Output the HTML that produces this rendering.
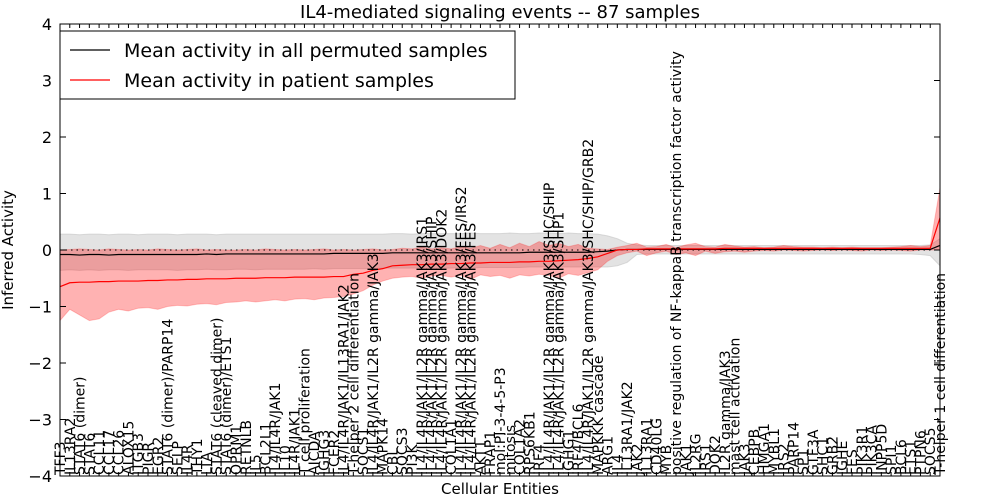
<!DOCTYPE html>
<html><head><meta charset="utf-8"><style>
html,body{margin:0;padding:0;background:#fff;}
svg{display:block;font-family:"DejaVu Sans","Liberation Sans",sans-serif;}
</style></head><body>
<svg id="chart" width="1000" height="500" viewBox="0 0 1000 500" xmlns="http://www.w3.org/2000/svg">
<rect x="0" y="0" width="1000" height="500" fill="#fff"/>
<g id="bands"></g>
<g id="lines"></g>
<g id="xlabels" font-size="14"></g>
<g id="axes"></g>
<text x="500" y="18" text-anchor="middle" font-size="18">IL4-mediated signaling events -- 87 samples</text>
<text x="500" y="494" text-anchor="middle" font-size="15">Cellular Entities</text>
<text transform="translate(13,250) rotate(-90)" text-anchor="middle" font-size="15">Inferred Activity</text>
<g>
<rect x="60" y="31" width="455" height="68" fill="#fff" stroke="#000" stroke-width="1"/>
<line x1="70" y1="50" x2="110" y2="50" stroke="#000" stroke-width="1.2"/>
<text x="124" y="57" font-size="19">Mean activity in all permuted samples</text>
<line x1="70" y1="80" x2="110" y2="80" stroke="#f00" stroke-width="1.2"/>
<text x="124" y="87" font-size="19">Mean activity in patient samples</text>
</g>
</svg>
<script>
const categories = ["TFF3","IL13RA2","STAT6 (dimer)","STAT6","CCL11","CCL17","CCL26","ALOX15","ITGB3","PIGR","EGR2","STAT6 (dimer)/PARP14","SELP","IL4R","THY1","LTA","STAT6 (cleaved dimer)","STAT6 (dimer)/ETS1","OPRM1","RETNLB","IL5","BCL2L1","IL4/IL4R/JAK1","IL10","IL4R/JAK1","T cell proliferation","AICDA","IGHG3","FCER2","IL4/IL4R/JAK1/IL13RA1/JAK2","T-helper 2 cell differentiation","SOCS1","IL4/IL4R/JAK1/IL2R gamma/JAK3","MAPK14","CBL","SOCS3","PI3K","IL4/IL4R/JAK1/IL2R gamma/JAK3/IRS1","IL4/IL4R/JAK1/IL2R gamma/JAK3/SHIP","IL4/IL4R/JAK1/IL2R gamma/JAK3/DOK2","COL1A1","IL4/IL4R/JAK1/IL2R gamma/JAK3/FES/IRS2","IL4/IL4R/JAK1/IL2R gamma/JAK3/FES","AKT1","FRAP1","mol:PI-3-4-5-P3","mitosis","COL1A2","RPS6KB1","IRF4","IL4/IL4R/JAK1/IL2R gamma/JAK3/SHC/SHIP","IL4/IL4R/JAK1/IL2R gamma/JAK3/SHP1","IGHG1","IRF4/BCL6","IL4/IL4R/JAK1/IL2R gamma/JAK3/SHC/SHIP/GRB2","MAPKKK cascade","ARG1","IL4","IL13RA1/JAK2","JAK2","IL13RA1","CD40LG","MYB","positive regulation of NF-kappaB transcription factor activity","JAK1","IL2RG","IRS1","DOK2","IL2R gamma/JAK3","mast cell activation","JAK3","CEBPB","HMGA1","MYBL1","IRS2","PARP14","SP1","GTF3A","SHC1","GRB2","IGHE","FES","PIK3R1","PIK3CA","INPP5D","SPI1","BCL6","ETS1","PTPN6","SOCS5","T-helper 1 cell differentiation"];
const redMean = [-0.65,-0.58,-0.57,-0.57,-0.56,-0.56,-0.55,-0.55,-0.55,-0.54,
-0.54,-0.53,-0.53,-0.52,-0.52,-0.51,-0.51,-0.51,-0.50,-0.50,
-0.50,-0.49,-0.49,-0.49,-0.48,-0.48,-0.48,-0.48,-0.47,-0.47,
-0.43,-0.41,-0.36,-0.33,-0.28,-0.27,-0.26,-0.26,-0.25,-0.25,
-0.24,-0.24,-0.23,-0.23,-0.22,-0.22,-0.22,-0.21,-0.21,-0.20,
-0.20,-0.19,-0.18,-0.17,-0.15,-0.12,-0.06,0.00,0.01,0.01,
0.02,0.02,0.02,0.02,0.02,0.02,0.02,0.02,0.03,0.03,
0.03,0.03,0.03,0.03,0.03,0.03,0.03,0.03,0.03,0.03,
0.03,0.03,0.03,0.03,0.03,0.03,0.03,0.03,0.03,0.03,0.57];
const redLo = [-1.25,-1.05,-1.15,-1.25,-1.22,-1.10,-1.05,-1.08,-1.03,-1.02,
-1.05,-1.00,-0.98,-0.99,-0.96,-0.95,-0.97,-0.93,-0.92,-0.90,
-0.92,-0.90,-0.88,-0.90,-0.87,-0.86,-0.88,-0.85,-0.84,-0.82,
-0.78,-0.72,-0.62,-0.55,-0.50,-0.48,-0.47,-0.50,-0.46,-0.45,
-0.48,-0.45,-0.52,-0.44,-0.47,-0.45,-0.50,-0.44,-0.46,-0.43,
-0.45,-0.50,-0.42,-0.45,-0.40,-0.35,-0.20,-0.10,-0.05,-0.02,
-0.10,-0.05,-0.02,-0.08,-0.05,-0.10,-0.02,-0.06,-0.03,-0.02,
-0.04,-0.02,-0.01,-0.02,0.00,-0.01,-0.02,-0.01,0.00,-0.01,
0.00,-0.01,-0.02,0.00,-0.01,0.00,-0.01,-0.02,0.00,0.00,0.00];
const redHi = [0.00,0.01,0.02,0.01,0.00,0.02,0.01,0.00,0.01,0.00,
0.02,0.01,0.00,0.01,0.02,0.00,0.01,0.00,0.00,0.01,
0.00,0.02,0.01,0.00,0.01,0.00,0.01,0.02,0.00,0.01,
0.00,0.01,0.02,0.00,0.01,0.03,0.02,0.05,0.02,0.04,
0.02,0.06,0.03,0.08,0.03,0.10,0.04,0.12,0.06,0.15,
0.08,0.12,0.06,0.10,0.03,0.02,0.01,0.05,0.08,0.12,
0.05,0.06,0.10,0.04,0.09,0.12,0.06,0.05,0.10,0.07,
0.05,0.06,0.04,0.05,0.08,0.06,0.05,0.05,0.04,0.05,
0.04,0.05,0.04,0.04,0.04,0.05,0.06,0.08,0.06,0.08,1.10];
const blackMean = [-0.08,-0.08,-0.09,-0.08,-0.08,-0.09,-0.08,-0.08,-0.08,-0.08,
-0.08,-0.08,-0.08,-0.08,-0.08,-0.07,-0.08,-0.07,-0.07,-0.07,
-0.07,-0.07,-0.07,-0.07,-0.07,-0.07,-0.07,-0.07,-0.06,-0.06,
-0.06,-0.06,-0.06,-0.06,-0.05,-0.05,-0.05,-0.05,-0.05,-0.05,
-0.05,-0.05,-0.05,-0.05,-0.05,-0.05,-0.05,-0.05,-0.04,-0.04,
-0.04,-0.04,-0.04,-0.04,-0.04,-0.03,-0.02,0.00,0.01,0.01,
0.01,0.01,0.01,0.01,0.01,0.01,0.01,0.01,0.01,0.01,
0.01,0.01,0.01,0.01,0.01,0.01,0.01,0.01,0.01,0.01,
0.01,0.01,0.01,0.01,0.01,0.01,0.01,0.01,0.01,0.01,0.08];
const greyLo = [-0.36,-0.35,-0.36,-0.35,-0.36,-0.35,-0.35,-0.36,-0.35,-0.35,
-0.35,-0.35,-0.36,-0.35,-0.35,-0.34,-0.35,-0.35,-0.34,-0.34,
-0.35,-0.34,-0.34,-0.34,-0.34,-0.34,-0.33,-0.34,-0.33,-0.33,
-0.33,-0.33,-0.33,-0.32,-0.32,-0.32,-0.32,-0.32,-0.32,-0.32,
-0.32,-0.31,-0.32,-0.31,-0.31,-0.31,-0.31,-0.31,-0.30,-0.30,
-0.30,-0.30,-0.30,-0.30,-0.30,-0.30,-0.30,-0.28,-0.22,-0.08,
-0.07,-0.07,-0.07,-0.07,-0.07,-0.07,-0.07,-0.07,-0.07,-0.07,
-0.07,-0.07,-0.07,-0.07,-0.07,-0.07,-0.07,-0.07,-0.07,-0.07,
-0.07,-0.07,-0.07,-0.07,-0.07,-0.07,-0.07,-0.07,-0.08,-0.10,-0.28];
const greyHi = [0.28,0.28,0.27,0.28,0.28,0.27,0.28,0.28,0.27,0.28,
0.28,0.28,0.27,0.28,0.28,0.28,0.27,0.28,0.28,0.28,
0.28,0.28,0.28,0.28,0.28,0.28,0.28,0.28,0.28,0.28,
0.28,0.28,0.28,0.28,0.29,0.29,0.28,0.29,0.29,0.29,
0.29,0.29,0.30,0.29,0.29,0.29,0.30,0.29,0.29,0.30,
0.30,0.29,0.30,0.29,0.29,0.28,0.25,0.20,0.12,0.09,
0.08,0.08,0.08,0.08,0.08,0.08,0.08,0.08,0.08,0.08,
0.08,0.08,0.08,0.08,0.08,0.08,0.08,0.08,0.08,0.08,
0.08,0.08,0.08,0.08,0.08,0.08,0.08,0.08,0.08,0.09,0.20];
const yTicks = [-4,-3,-2,-1,0,1,2,3,4];

const NS = "http://www.w3.org/2000/svg";
const X0 = 60, X1 = 940, Y0 = 24, Y1 = 476, VMIN = -4, VMAX = 4;
function xScale(i){ return X0 + i * (X1 - X0) / (categories.length - 1); }
function yScale(v){ return Y1 - (v - VMIN) * (Y1 - Y0) / (VMAX - VMIN); }
function mk(tag, attrs, parent){
  const el = document.createElementNS(NS, tag);
  for (const k in attrs) el.setAttribute(k, attrs[k]);
  parent.appendChild(el);
  return el;
}
function bandPath(lo, hi){
  let d = "";
  hi.forEach((v,i)=>{ d += (i?"L":"M") + xScale(i).toFixed(2) + "," + yScale(v).toFixed(2); });
  for (let i = lo.length-1; i >= 0; i--) d += "L" + xScale(i).toFixed(2) + "," + yScale(lo[i]).toFixed(2);
  return d + "Z";
}
function linePath(vals){
  return vals.map((v,i)=>(i?"L":"M") + xScale(i).toFixed(2) + "," + yScale(v).toFixed(2)).join("");
}
const bands = document.getElementById("bands");
const grey = mk("path", {d: bandPath(greyLo, greyHi), fill: "#c8c8c8", "fill-opacity": "0.5", stroke: "#bbb", "stroke-opacity": "0.5"}, bands);


const red = mk("path", {d: bandPath(redLo, redHi), fill: "#ff0000", "fill-opacity": "0.3", stroke: "#ff0000", "stroke-opacity": "0.2"}, bands);



const lines = document.getElementById("lines");
const zero = mk("line", {x1: X0, x2: X1, y1: yScale(0), y2: yScale(0), stroke: "#000", "stroke-width": 1, "stroke-dasharray": "1.5,4"}, lines);


const bl = mk("path", {d: linePath(blackMean), fill: "none", stroke: "#000", "stroke-width": 1.2}, lines);


const rl = mk("path", {d: linePath(redMean), fill: "none", stroke: "#f00", "stroke-width": 1.2}, lines);



const xl = document.getElementById("xlabels");
const axes = document.getElementById("axes");
categories.forEach((c,i)=>{
  const x = xScale(i);
  const t = mk("text", {transform: "translate(" + (x + 5).toFixed(2) + "," + (Y1 - 1) + ") rotate(-90)"}, xl);
  t.textContent = c;
  
  
  const tk = mk("path", {d: "M" + x.toFixed(2) + "," + Y1 + "v-4M" + x.toFixed(2) + "," + Y0 + "v4", stroke: "#000", "stroke-width": 1}, axes);
  
  
});
yTicks.forEach(v=>{
  const y = yScale(v);
  const tk = mk("path", {d: "M" + X0 + "," + y + "h6M" + X1 + "," + y + "h-6", stroke: "#000", "stroke-width": 1}, axes);
  
  
  const t = mk("text", {x: 52, y: y + 6, "text-anchor": "end", "font-size": 16}, axes);
  t.textContent = v < 0 ? "\u2212" + Math.abs(v) : String(v);
  
  
});
const frame = mk("rect", {x: X0, y: Y0, width: X1 - X0, height: Y1 - Y0, fill: "none", stroke: "#000", "stroke-width": 1}, axes);


</script>
</body></html>
